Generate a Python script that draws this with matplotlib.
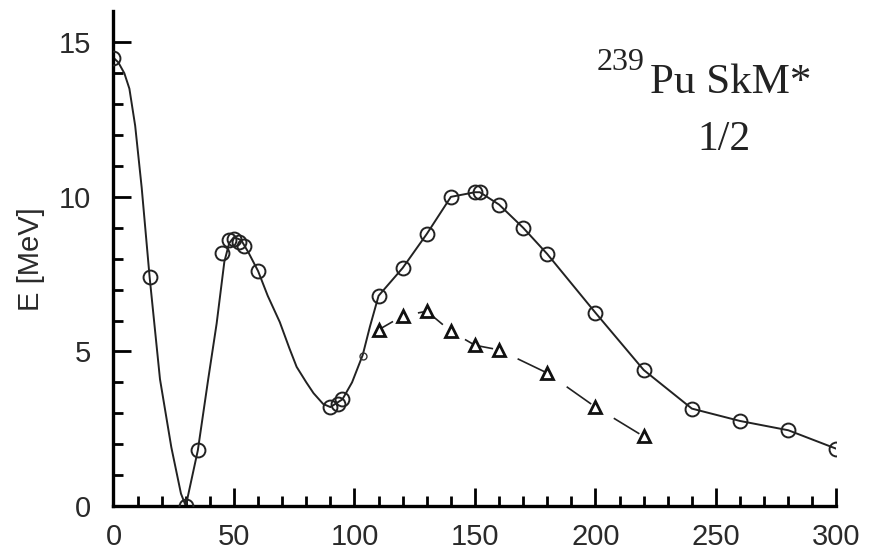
import matplotlib
matplotlib.use('Agg')
import matplotlib.pyplot as plt

# circles (solid curve)
circ_x = [0, 15, 30, 35, 45, 48, 50, 52, 54, 60, 90, 93, 95,
          110, 120, 130, 140, 150, 152, 160, 170, 180, 200, 220, 240, 260, 280, 300]
circ_y = [14.5, 7.4, 0.0, 1.8, 8.2, 8.6, 8.65, 8.55, 8.4, 7.6, 3.2, 3.3, 3.45,
          6.8, 7.7, 8.8, 10.0, 10.15, 10.15, 9.75, 9.0, 8.15, 6.25, 4.4, 3.15, 2.75, 2.45, 1.85]

# trace of the solid curve between the markers
line_x = [0, 2, 4.5, 6.6, 9, 11.7, 15, 19.3, 24, 28, 30, 35, 39.3, 42.8, 46, 48, 50, 53, 56, 60,
          64, 69, 73, 76, 80, 83, 87, 90, 95, 99, 103.4, 106.4, 110, 120, 130, 140, 150, 152,
          160, 170, 180, 200, 220, 240, 260, 280, 300]
line_y = [14.5, 14.35, 14.0, 13.5, 12.3, 10.3, 7.4, 4.1, 1.9, 0.4, 0.0, 1.8, 4.1, 5.9, 7.9, 8.5, 8.7, 8.6, 8.2, 7.6,
          6.8, 5.95, 5.1, 4.5, 4.0, 3.65, 3.3, 3.2, 3.45, 4.0, 4.88, 5.8, 6.8, 7.7, 8.8, 10.0, 10.15, 10.15,
          9.75, 9.0, 8.15, 6.25, 4.4, 3.15, 2.75, 2.45, 1.85]

# small point on the rising branch
dot_x = [103.4]
dot_y = [4.85]

# triangles (dashed)
tri_x = [110, 120, 130, 140, 150, 160, 180, 200, 220]
tri_y = [5.7, 6.15, 6.3, 5.65, 5.2, 5.05, 4.3, 3.2, 2.25]

xticks = [0, 50, 100, 150, 200, 250, 300]
yticks = [0, 5, 10, 15]

W, H = 877, 555
fig = plt.figure(figsize=(W / 100, H / 100), dpi=100)
ax = fig.add_axes([0.1294, 0.0883, 0.8244, 0.8912])

ax.plot(line_x, line_y, color='#222222', lw=1.4, zorder=2)
ax.plot(circ_x, circ_y, ls='none', marker='o', ms=10, mfc='none', mec='#222222', mew=1.4, zorder=3)
ax.plot(dot_x, dot_y, ls='none', marker='o', ms=5, mfc='none', mec='#333333', mew=1.0, zorder=3)
ax.plot(tri_x, tri_y, color='#222222', lw=1.2, ls=(8, (18, 16)), marker='^', ms=9,
        mfc='white', mec='#111111', mew=2.0, zorder=3)

ax.set_xlim(0, 300)
ax.set_ylim(0, 16)
ax.set_xticks(xticks)
ax.set_yticks(yticks)
ax.set_xticks(range(0, 301, 10), minor=True)
ax.set_yticks(range(0, 16), minor=True)

for s in ['top', 'right']:
    ax.spines[s].set_visible(False)
for s in ['left', 'bottom']:
    ax.spines[s].set_linewidth(2.4)

ax.tick_params(which='major', direction='in', length=13, width=2.0, labelsize=21,
               labelcolor='#2a2a2a')
ax.tick_params(which='minor', direction='in', length=7, width=2.0)
ax.tick_params(axis='y', pad=16)
ax.tick_params(axis='x', pad=12)
for lab in ax.get_xticklabels() + ax.get_yticklabels():
    lab.set_family(['Liberation Sans', 'DejaVu Sans'])

ax.set_ylabel('E [MeV]', fontsize=21, family=['Liberation Sans', 'DejaVu Sans'],
              color='#2a2a2a', labelpad=10)

serif = ['Liberation Serif', 'DejaVu Serif']
fig.text(597 / W, 1 - 70 / H, '239', fontsize=23, family=serif, color='#222222',
         ha='left', va='baseline')
fig.text(650 / W, 1 - 93 / H, 'Pu SkM*', fontsize=31, family=serif, color='#222222',
         ha='left', va='baseline')
fig.text(697 / W, 1 - 150 / H, '1/2', fontsize=30, family=serif, color='#222222',
         ha='left', va='baseline')

fig.savefig('out.png', dpi=100)
